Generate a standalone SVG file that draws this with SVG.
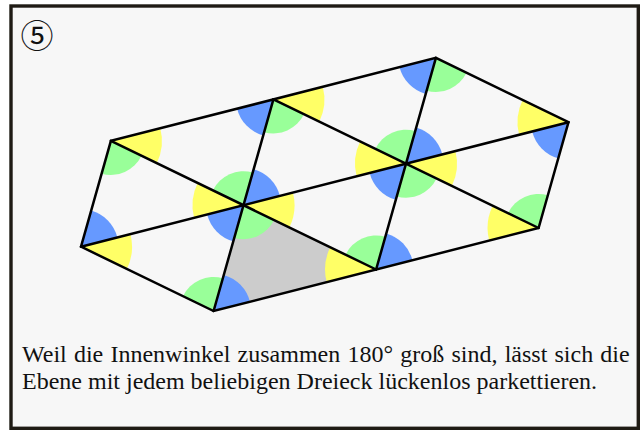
<svg xmlns="http://www.w3.org/2000/svg" xmlns:xlink="http://www.w3.org/1999/xlink" width="641" height="430" viewBox="0 0 641 430">
<style>
.frame{fill:#f7f7f7;stroke:#1f1b14;stroke-width:3.4}
.y{fill:#ffff66}
.g{fill:#99ff99}
.b{fill:#6699ff}
.gray{fill:#cccccc}
.ln{fill:none;stroke:#000;stroke-width:2.5;stroke-linejoin:miter;stroke-linecap:round}
.txt{font-family:"Liberation Serif","Times New Roman",serif;font-size:24px;fill:#111}
.num{font-family:"Noto Sans CJK JP","DejaVu Sans",sans-serif;font-size:33px;fill:#111}
</style>
<defs>
<path id="s1" class="y" d="M0,0 L49.42,-12.62 A51,51 0 0 1 45.88,22.25 Z"/>
<path id="s2" class="g" d="M0,0 L30.59,14.83 A34,34 0 0 1 -9.25,32.73 Z"/>
<path id="s3" class="b" d="M0,0 L-10.20,36.10 A37.5,37.5 0 0 1 -36.34,9.28 Z"/>
<path id="s4" class="y" d="M0,0 L-49.42,12.62 A51,51 0 0 1 -45.88,-22.25 Z"/>
<path id="s5" class="g" d="M0,0 L-30.59,-14.83 A34,34 0 0 1 9.25,-32.73 Z"/>
<path id="s6" class="b" d="M0,0 L10.20,-36.10 A37.5,37.5 0 0 1 36.34,-9.28 Z"/>
</defs>
<rect class="frame" x="11" y="6" width="627.3" height="422.3"/>
<text class="num" x="20.5" y="47.5">⑤</text>
<g id="shaded">
<polygon class="gray" points="243.5,205.2 213.6,311 376.1,269.5"/>
</g>
<g id="angles">
<use xlink:href="#s6" x="81" y="246.7"/>
<use xlink:href="#s1" x="81" y="246.7"/>
<use xlink:href="#s2" x="110.9" y="140.9"/>
<use xlink:href="#s1" x="110.9" y="140.9"/>
<use xlink:href="#s1" x="243.5" y="205.2"/>
<use xlink:href="#s2" x="243.5" y="205.2"/>
<use xlink:href="#s3" x="243.5" y="205.2"/>
<use xlink:href="#s4" x="243.5" y="205.2"/>
<use xlink:href="#s5" x="243.5" y="205.2"/>
<use xlink:href="#s6" x="243.5" y="205.2"/>
<use xlink:href="#s1" x="273.4" y="99.4"/>
<use xlink:href="#s2" x="273.4" y="99.4"/>
<use xlink:href="#s3" x="273.4" y="99.4"/>
<use xlink:href="#s1" x="406" y="163.7"/>
<use xlink:href="#s2" x="406" y="163.7"/>
<use xlink:href="#s3" x="406" y="163.7"/>
<use xlink:href="#s4" x="406" y="163.7"/>
<use xlink:href="#s5" x="406" y="163.7"/>
<use xlink:href="#s6" x="406" y="163.7"/>
<use xlink:href="#s2" x="435.9" y="57.9"/>
<use xlink:href="#s3" x="435.9" y="57.9"/>
<use xlink:href="#s3" x="568.5" y="122.2"/>
<use xlink:href="#s4" x="568.5" y="122.2"/>
<use xlink:href="#s5" x="213.6" y="311"/>
<use xlink:href="#s6" x="213.6" y="311"/>
<use xlink:href="#s4" x="376.1" y="269.5"/>
<use xlink:href="#s5" x="376.1" y="269.5"/>
<use xlink:href="#s6" x="376.1" y="269.5"/>
<use xlink:href="#s4" x="538.6" y="228"/>
<use xlink:href="#s5" x="538.6" y="228"/>
</g>
<g id="edges" class="ln">
<polygon points="81,246.7 110.9,140.9 435.9,57.9 568.5,122.2 538.6,228 213.6,311"/>
<line x1="81" y1="246.7" x2="568.5" y2="122.2"/>
<line x1="110.9" y1="140.9" x2="376.1" y2="269.5"/>
<line x1="273.4" y1="99.4" x2="538.6" y2="228"/>
<line x1="213.6" y1="311" x2="273.4" y2="99.4"/>
<line x1="376.1" y1="269.5" x2="435.9" y2="57.9"/>
</g>
<g id="caption" class="txt">
<text x="22" y="361.5" word-spacing="1.2">Weil die Innenwinkel zusammen 180° groß sind, lässt sich die</text>
<text x="22" y="388.5">Ebene mit jedem beliebigen Dreieck lückenlos parkettieren.</text>
</g>
</svg>
